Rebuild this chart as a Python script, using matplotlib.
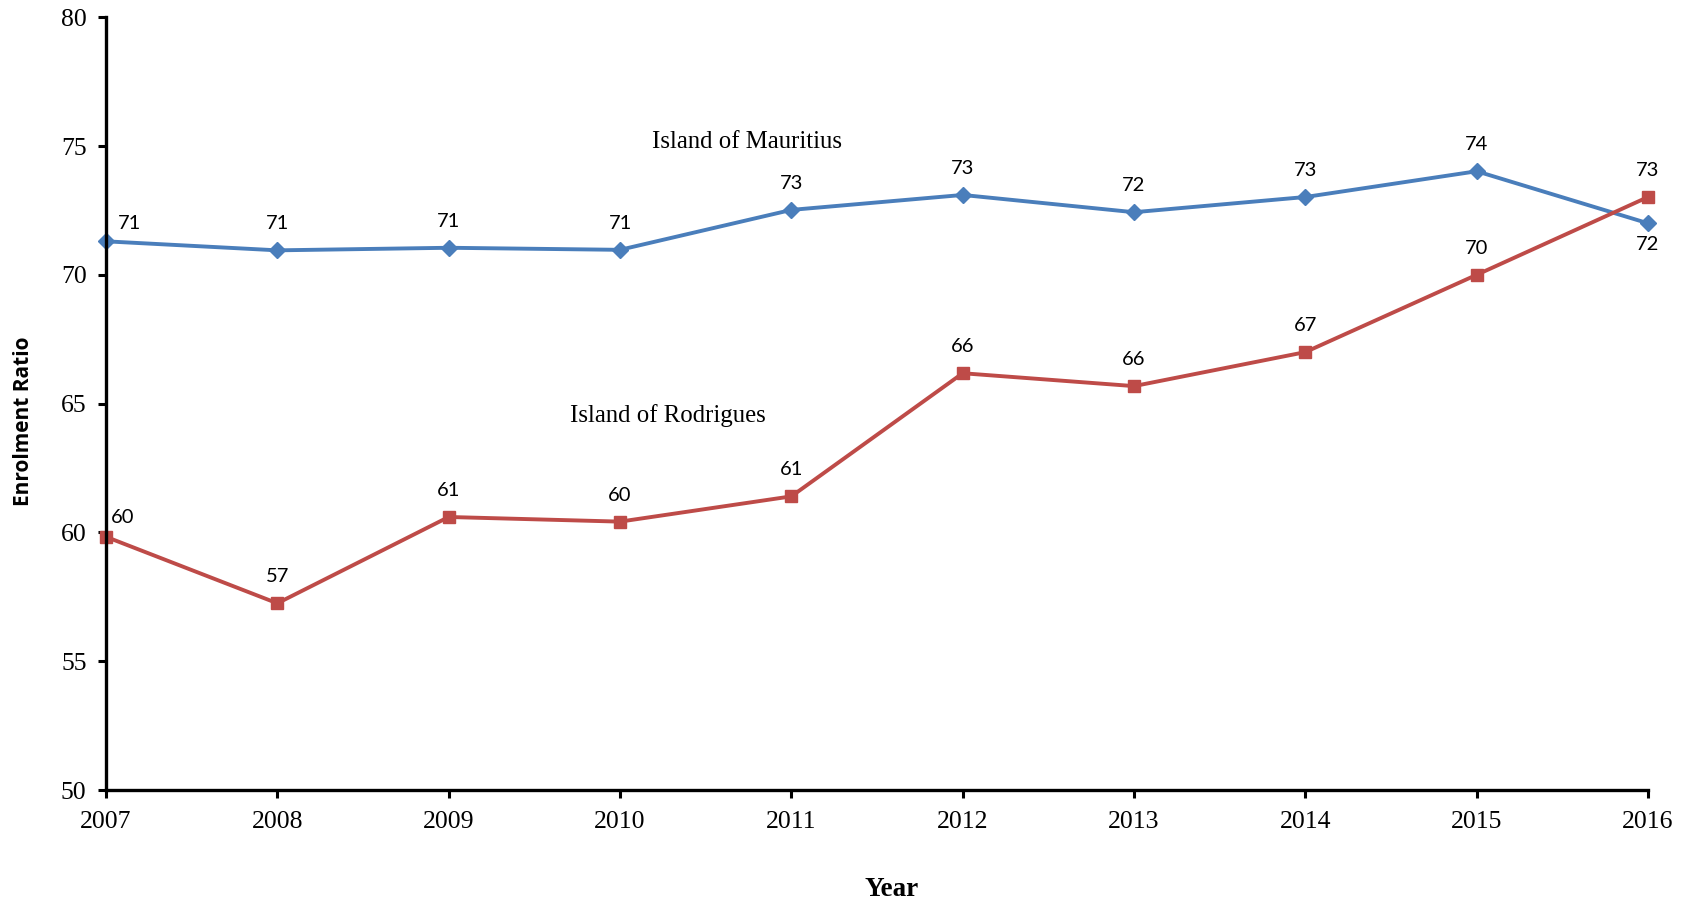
import numpy as np
import matplotlib.pyplot as plt

# Data
years = [2007, 2008, 2009, 2010, 2011, 2012, 2013, 2014, 2015, 2016]
mauritius = [71.3, 70.95, 71.05, 70.97, 72.52, 73.1, 72.43, 73.02, 74.02, 72.0]
rodrigues = [59.83, 57.25, 60.6, 60.42, 61.4, 66.18, 65.68, 67.0, 70.0, 73.02]
mauritius_labels = ['71', '71', '71', '71', '73', '73', '72', '73', '74', '72']
rodrigues_labels = ['60', '57', '61', '60', '61', '66', '66', '67', '70', '73']

BLUE = '#4A7EBB'
RED = '#BE4B48'
SERIF = 'Liberation Serif'
LABEL_FONT = 'Lato'

fig = plt.figure(figsize=(16.96, 9.05), dpi=100)
ax = fig.add_axes([0.0625, 0.127, 0.9092, 0.854])

ax.plot(years, mauritius, color=BLUE, lw=2.8, marker='D', markersize=8,
        zorder=3, clip_on=False)
ax.plot(years, rodrigues, color=RED, lw=2.8, marker='s', markersize=9,
        zorder=3, clip_on=False)

# Data labels
for i, (x, y, lab) in enumerate(zip(years, mauritius, mauritius_labels)):
    if i == 0:
        off = (17, 13)
    elif x == 2016:
        off = (0, -15)
    else:
        off = (0, 19)
    ax.annotate(lab, (x, y), xytext=off, textcoords='offset points',
                ha='center', va='center', fontsize=14.5, family=LABEL_FONT)

for i, (x, y, lab) in enumerate(zip(years, rodrigues, rodrigues_labels)):
    off = (12, 14) if i == 0 else (0, 19)
    ax.annotate(lab, (x, y), xytext=off, textcoords='offset points',
                ha='center', va='center', fontsize=14.5, family=LABEL_FONT)

ax.text(2010.74, 75.17, 'Island of Mauritius', ha='center', va='center',
        fontsize=17.8, family=SERIF)
ax.text(2010.28, 64.54, 'Island of Rodrigues', ha='center', va='center',
        fontsize=17.8, family=SERIF)

ax.set_xlim(2007, 2016)
ax.set_ylim(50, 80)
ax.set_xticks(years)
ax.set_yticks(np.arange(50, 81, 5))
ax.tick_params(direction='out', length=6, width=2.2, labelsize=18.5)
ax.tick_params(axis='x', pad=9)
ax.tick_params(axis='y', pad=8)
for lab in ax.get_xticklabels() + ax.get_yticklabels():
    lab.set_family(SERIF)

for side in ['top', 'right']:
    ax.spines[side].set_visible(False)
for side in ['left', 'bottom']:
    ax.spines[side].set_linewidth(2.4)
ax.spines['left'].set_zorder(4)

fig.text(0.526, 0.017, 'Year', ha='center', va='center', fontsize=19.5,
         fontweight='bold', family=SERIF)
fig.text(0.014, 0.535, 'Enrolment Ratio', ha='center', va='center', fontsize=15,
         fontweight='bold', family='Open Sans', rotation=90)

fig.savefig('out.png', dpi=100)
